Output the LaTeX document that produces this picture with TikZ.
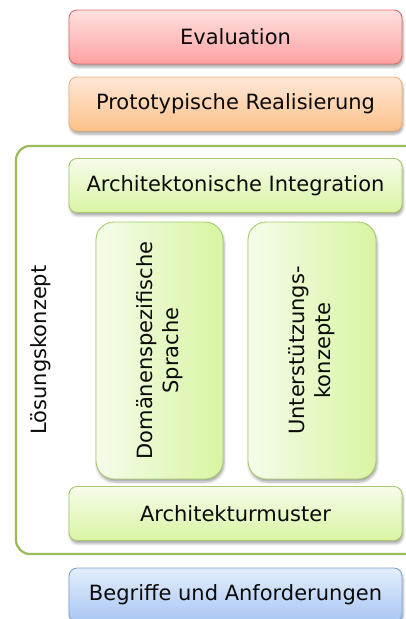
\documentclass[tikz,border=0pt]{standalone}
\usepackage{fontspec}
\setmainfont{DejaVu Sans}
\usetikzlibrary{shadows.blur}
\definecolor{redtop}{HTML}{FDE0E0}
\definecolor{redbot}{HTML}{FFA2A2}
\definecolor{redline}{HTML}{D86E6E}
\definecolor{orgtop}{HTML}{FEE8D8}
\definecolor{orgbot}{HTML}{FCC189}
\definecolor{orgline}{HTML}{F2B07A}
\definecolor{grntop}{HTML}{F5FCEA}
\definecolor{grnbot}{HTML}{D8F5A2}
\definecolor{grnline}{HTML}{A8C96E}
\definecolor{bluetop}{HTML}{E4EEFC}
\definecolor{bluebot}{HTML}{A8C6F3}
\definecolor{blueline}{HTML}{80A4D4}
\definecolor{frame}{HTML}{9BBB59}
\definecolor{txt}{HTML}{0A0A0A}
\tikzset{
  layer/.style={draw, line width=0.9pt, rounded corners=8pt,
    minimum width=333pt, minimum height=54pt, inner sep=0pt,
    font=\fontsize{21}{25}\selectfont, text=txt,
    blur shadow={shadow xshift=1pt, shadow yshift=-3pt, shadow blur radius=2.5pt, shadow opacity=35}},
  pillar/.style={draw=grnline, line width=0.9pt, rounded corners=18pt,
    inner sep=0pt, left color=grntop, right color=grnbot,
    font=\fontsize{21}{26}\selectfont, text=txt, align=center, rotate=90,
    blur shadow={shadow xshift=1pt, shadow yshift=-3pt, shadow blur radius=2.5pt, shadow opacity=35}},
  redbox/.style={layer, draw=redline, top color=redtop, bottom color=redbot},
  orgbox/.style={layer, draw=orgline, top color=orgtop, bottom color=orgbot},
  grnbox/.style={layer, draw=grnline, top color=grntop, bottom color=grnbot},
  bluebox/.style={layer, draw=blueline, top color=bluetop, bottom color=bluebot},
}
\begin{document}
\begin{tikzpicture}[x=1pt, y=-1pt]
  \useasboundingbox (0,0) rectangle (406,619);
  \clip (0,0) rectangle (406,619);
  % container of the solution concept
  \draw[frame, line width=2.2pt, rounded corners=14pt] (16,146) rectangle (440,554);
  \node[rotate=90, font=\fontsize{21}{25}\selectfont, text=txt] (loesung) at (41,350) {Lösungskonzept};
  % stacked layers
  \node[redbox] (eval) at (235.5,37) {Evaluation};
  \node[orgbox] (proto) at (235.5,104) {Prototypische Realisierung};
  \node[grnbox] (integ) at (235.5,185.5) {Architektonische Integration};
  \node[pillar, minimum width=257pt, minimum height=127pt] (dsl) at (159.5,350.5) {Domänenspezifische\\Sprache};
  \node[pillar, minimum width=257pt, minimum height=128pt] (supp) at (312,350.5) {Unterstützungs-\\konzepte};
  \node[grnbox] (muster) at (235.5,513.5) {Architekturmuster};
  \node[bluebox] (begr) at (235.5,595) {Begriffe und Anforderungen};
\end{tikzpicture}
\end{document}
